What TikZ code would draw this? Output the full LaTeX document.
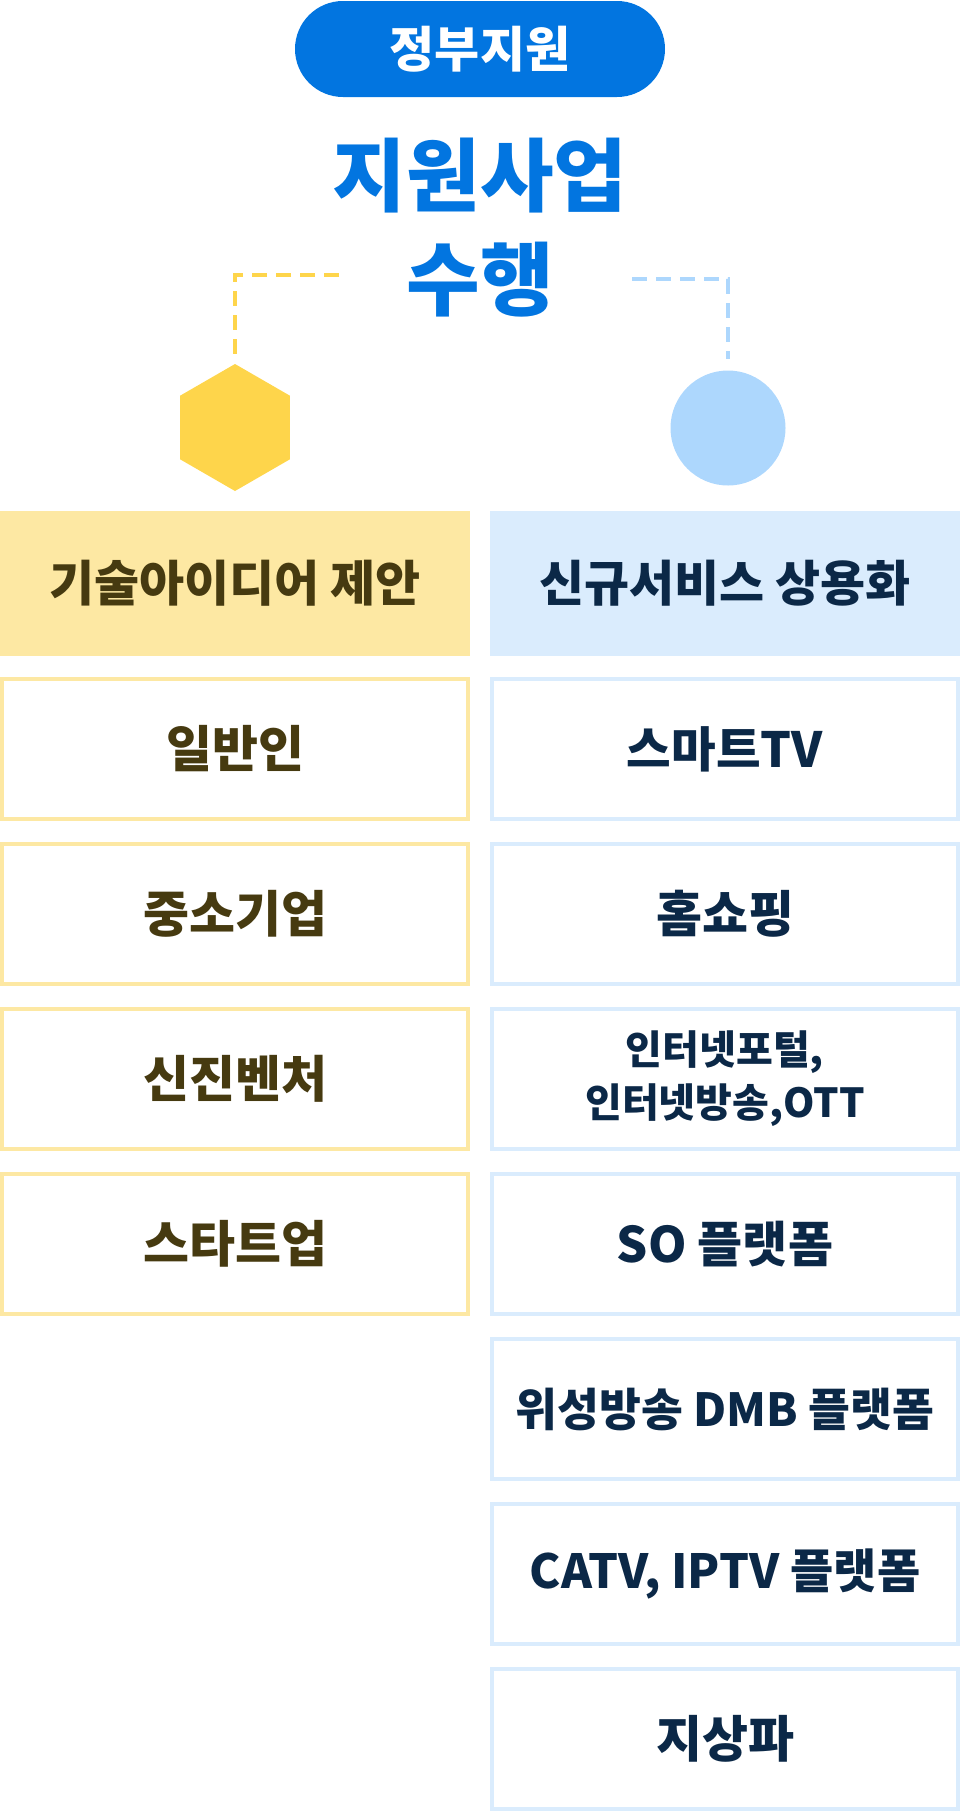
\documentclass[tikz,border=0pt]{standalone}
\usepackage{fontspec}
\setmainfont{Noto Sans CJK KR}
\usetikzlibrary{shapes.geometric,positioning}

\definecolor{govblue}{HTML}{0275E0}
\definecolor{hexyellow}{HTML}{FED54B}
\definecolor{dotblue}{HTML}{ADD7FD}
\definecolor{yellowbox}{HTML}{FDE8A3}
\definecolor{bluebox}{HTML}{DAECFD}
\definecolor{browntext}{HTML}{463A10}
\definecolor{navytext}{HTML}{0B2847}

\newcommand{\boxfont}[1]{\fontsize{#1}{#1}\selectfont\bfseries}

\tikzset{
  pill/.style={fill=govblue, text=white, rounded corners=48pt, minimum width=370pt, minimum height=96pt,
    font=\boxfont{49}},
  headleft/.style={fill=yellowbox, text=browntext, minimum width=470pt, minimum height=145pt, inner sep=0pt,
    font=\boxfont{49}},
  headright/.style={headleft, fill=bluebox, text=navytext},
  itemleft/.style={draw=yellowbox, line width=4pt, fill=white, text=browntext, minimum width=466pt,
    minimum height=140pt, inner sep=0pt, align=center, font=\boxfont{50}},
  itemright/.style={itemleft, draw=bluebox, text=navytext},
  linkdash/.style={line width=3.5pt, dash pattern=on 15pt off 9pt}
}

\begin{document}
\begin{tikzpicture}[x=1pt,y=-1pt]
\useasboundingbox (0,0) rectangle (960,1812);

    \node[pill] (gov) at (480,49) {정부지원};
    \node[text=govblue, align=center, font=\fontsize{80}{104}\selectfont\bfseries] (task) at (480,228) {지원사업\\수행};

    \node[regular polygon, regular polygon sides=6, shape border rotate=30, minimum size=127pt,
      inner sep=0pt, fill=hexyellow] (hex) at (235,427.5) {};
    \node[circle, minimum size=115pt, inner sep=0pt, fill=dotblue] (dot) at (728,428) {};

    \coordinate (yellowend) at (339,275);
    \coordinate (blueend) at (632,279);
    \draw[linkdash, hexyellow] (yellowend) -| ([yshift=4pt]hex.north);
    \draw[linkdash, dotblue] (blueend) -| ([yshift=11pt]dot.north);

    % left column
    \node[headleft] (idea) at (235,583.5) {기술아이디어 제안};
    \node[itemleft] (public) at (235,749) {일반인};
    \node[itemleft] (sme) at (235,914) {중소기업};
    \node[itemleft] (venture) at (235,1079) {신진벤처};
    \node[itemleft] (startup) at (235,1244) {스타트업};

    % right column
    \node[headright] (service) at (725,583.5) {신규서비스 상용화};
    \node[itemright, font=\boxfont{48.5}] (smarttv) at (725,749) {스마트TV};
    \node[itemright] (shopping) at (725,914) {홈쇼핑};
    \node[itemright, font=\fontsize{40}{53}\selectfont\bfseries] (portal) at (725,1079) {인터넷포털,\\인터넷방송,OTT};
    \node[itemright, font=\boxfont{49}] (so) at (725,1244) {SO 플랫폼};
    \node[itemright, font=\boxfont{45.5}] (dmb) at (725,1409) {위성방송 DMB 플랫폼};
    \node[itemright, font=\boxfont{47}] (iptv) at (725,1574) {CATV, IPTV 플랫폼};
    \node[itemright] (terrestrial) at (725,1739) {지상파};
\end{tikzpicture}
\end{document}
